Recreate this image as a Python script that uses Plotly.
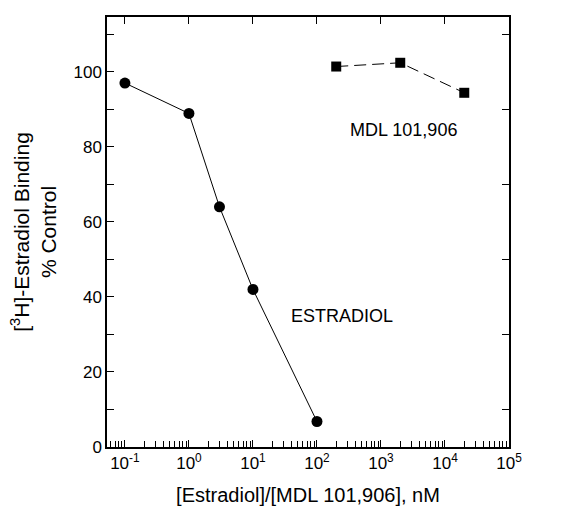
import plotly.graph_objects as go

estradiol_x = [0.1, 1, 3, 10, 100]
estradiol_y = [97, 88.9, 64, 42, 6.8]
mdl_x = [200, 2000, 20000]
mdl_y = [101.4, 102.4, 94.4]
x_tickvals = [0.1, 1, 10, 100, 1000, 10000, 100000]
x_ticktext = ["10<sup>-1</sup>", "10<sup>0</sup>", "10<sup>1</sup>", "10<sup>2</sup>",
              "10<sup>3</sup>", "10<sup>4</sup>", "10<sup>5</sup>"]
y_tickvals = [0, 20, 40, 60, 80, 100]
y_right_ticks = [10, 30, 50, 70, 90, 110]

XR = [-1.28, 5]
YR = [0, 114.6]

fig = go.Figure()
fig.add_trace(go.Scatter(x=estradiol_x, y=estradiol_y, mode="lines+markers",
                         line=dict(color="black", width=1),
                         marker=dict(symbol="circle", size=11, color="black"),
                         showlegend=False))
fig.add_trace(go.Scatter(x=mdl_x, y=mdl_y, mode="lines+markers",
                         line=dict(color="black", width=1, dash="12px,6px"),
                         marker=dict(symbol="square", size=10, color="black"),
                         showlegend=False))
# invisible trace to activate top/right tick axes
fig.add_trace(go.Scatter(x=[], y=[], xaxis="x2", yaxis="y2", showlegend=False))

fig.add_annotation(x=3.35, y=84.6, xref="x", yref="y", text="MDL 101,906",
                   showarrow=False, font=dict(size=18, color="black"))
fig.add_annotation(x=2.39, y=35, xref="x", yref="y", text="ESTRADIOL",
                   showarrow=False, font=dict(size=18, color="black"))

fig.update_layout(
    xaxis=dict(type="log", range=XR, tickvals=x_tickvals, ticktext=x_ticktext,
               showline=True, linecolor="black", linewidth=1.5, mirror=True,
               ticks="inside", ticklen=7, tickcolor="black", showgrid=False,
               minor=dict(ticks="inside", ticklen=6, dtick="D1", tickcolor="black", showgrid=False),
               tickfont=dict(size=17, color="black"),
               title=dict(text="[Estradiol]/[MDL 101,906], nM", font=dict(size=20, color="black"),
                          standoff=16),
               zeroline=False),
    yaxis=dict(range=YR, tickvals=y_tickvals,
               showline=True, linecolor="black", linewidth=1.5, mirror=True,
               ticks="inside", ticklen=7, tickcolor="black", showgrid=False,
               minor=dict(ticks="inside", ticklen=7, dtick=10, tickcolor="black", showgrid=False),
               tickfont=dict(size=17, color="black"),
               title=dict(text="[<sup>3</sup>H]-Estradiol Binding<br>% Control",
                          font=dict(size=21, color="black"), standoff=11),
               zeroline=False),
    xaxis2=dict(type="log", range=XR, overlaying="x", side="top", anchor="y",
                tickvals=x_tickvals, showticklabels=False, ticks="inside", ticklen=7,
                tickcolor="black", showgrid=False, showline=False, zeroline=False),
    yaxis2=dict(range=YR, overlaying="y", side="right", anchor="x",
                tickvals=y_right_ticks, showticklabels=False, ticks="inside", ticklen=7,
                tickcolor="black", showgrid=False, showline=False, zeroline=False),
    width=565, height=515, margin=dict(l=107, r=56, t=17, b=66),
    plot_bgcolor="white", paper_bgcolor="white",
    font=dict(family="Liberation Sans, Arial, sans-serif", color="black"))
fig.write_html("out.html")
